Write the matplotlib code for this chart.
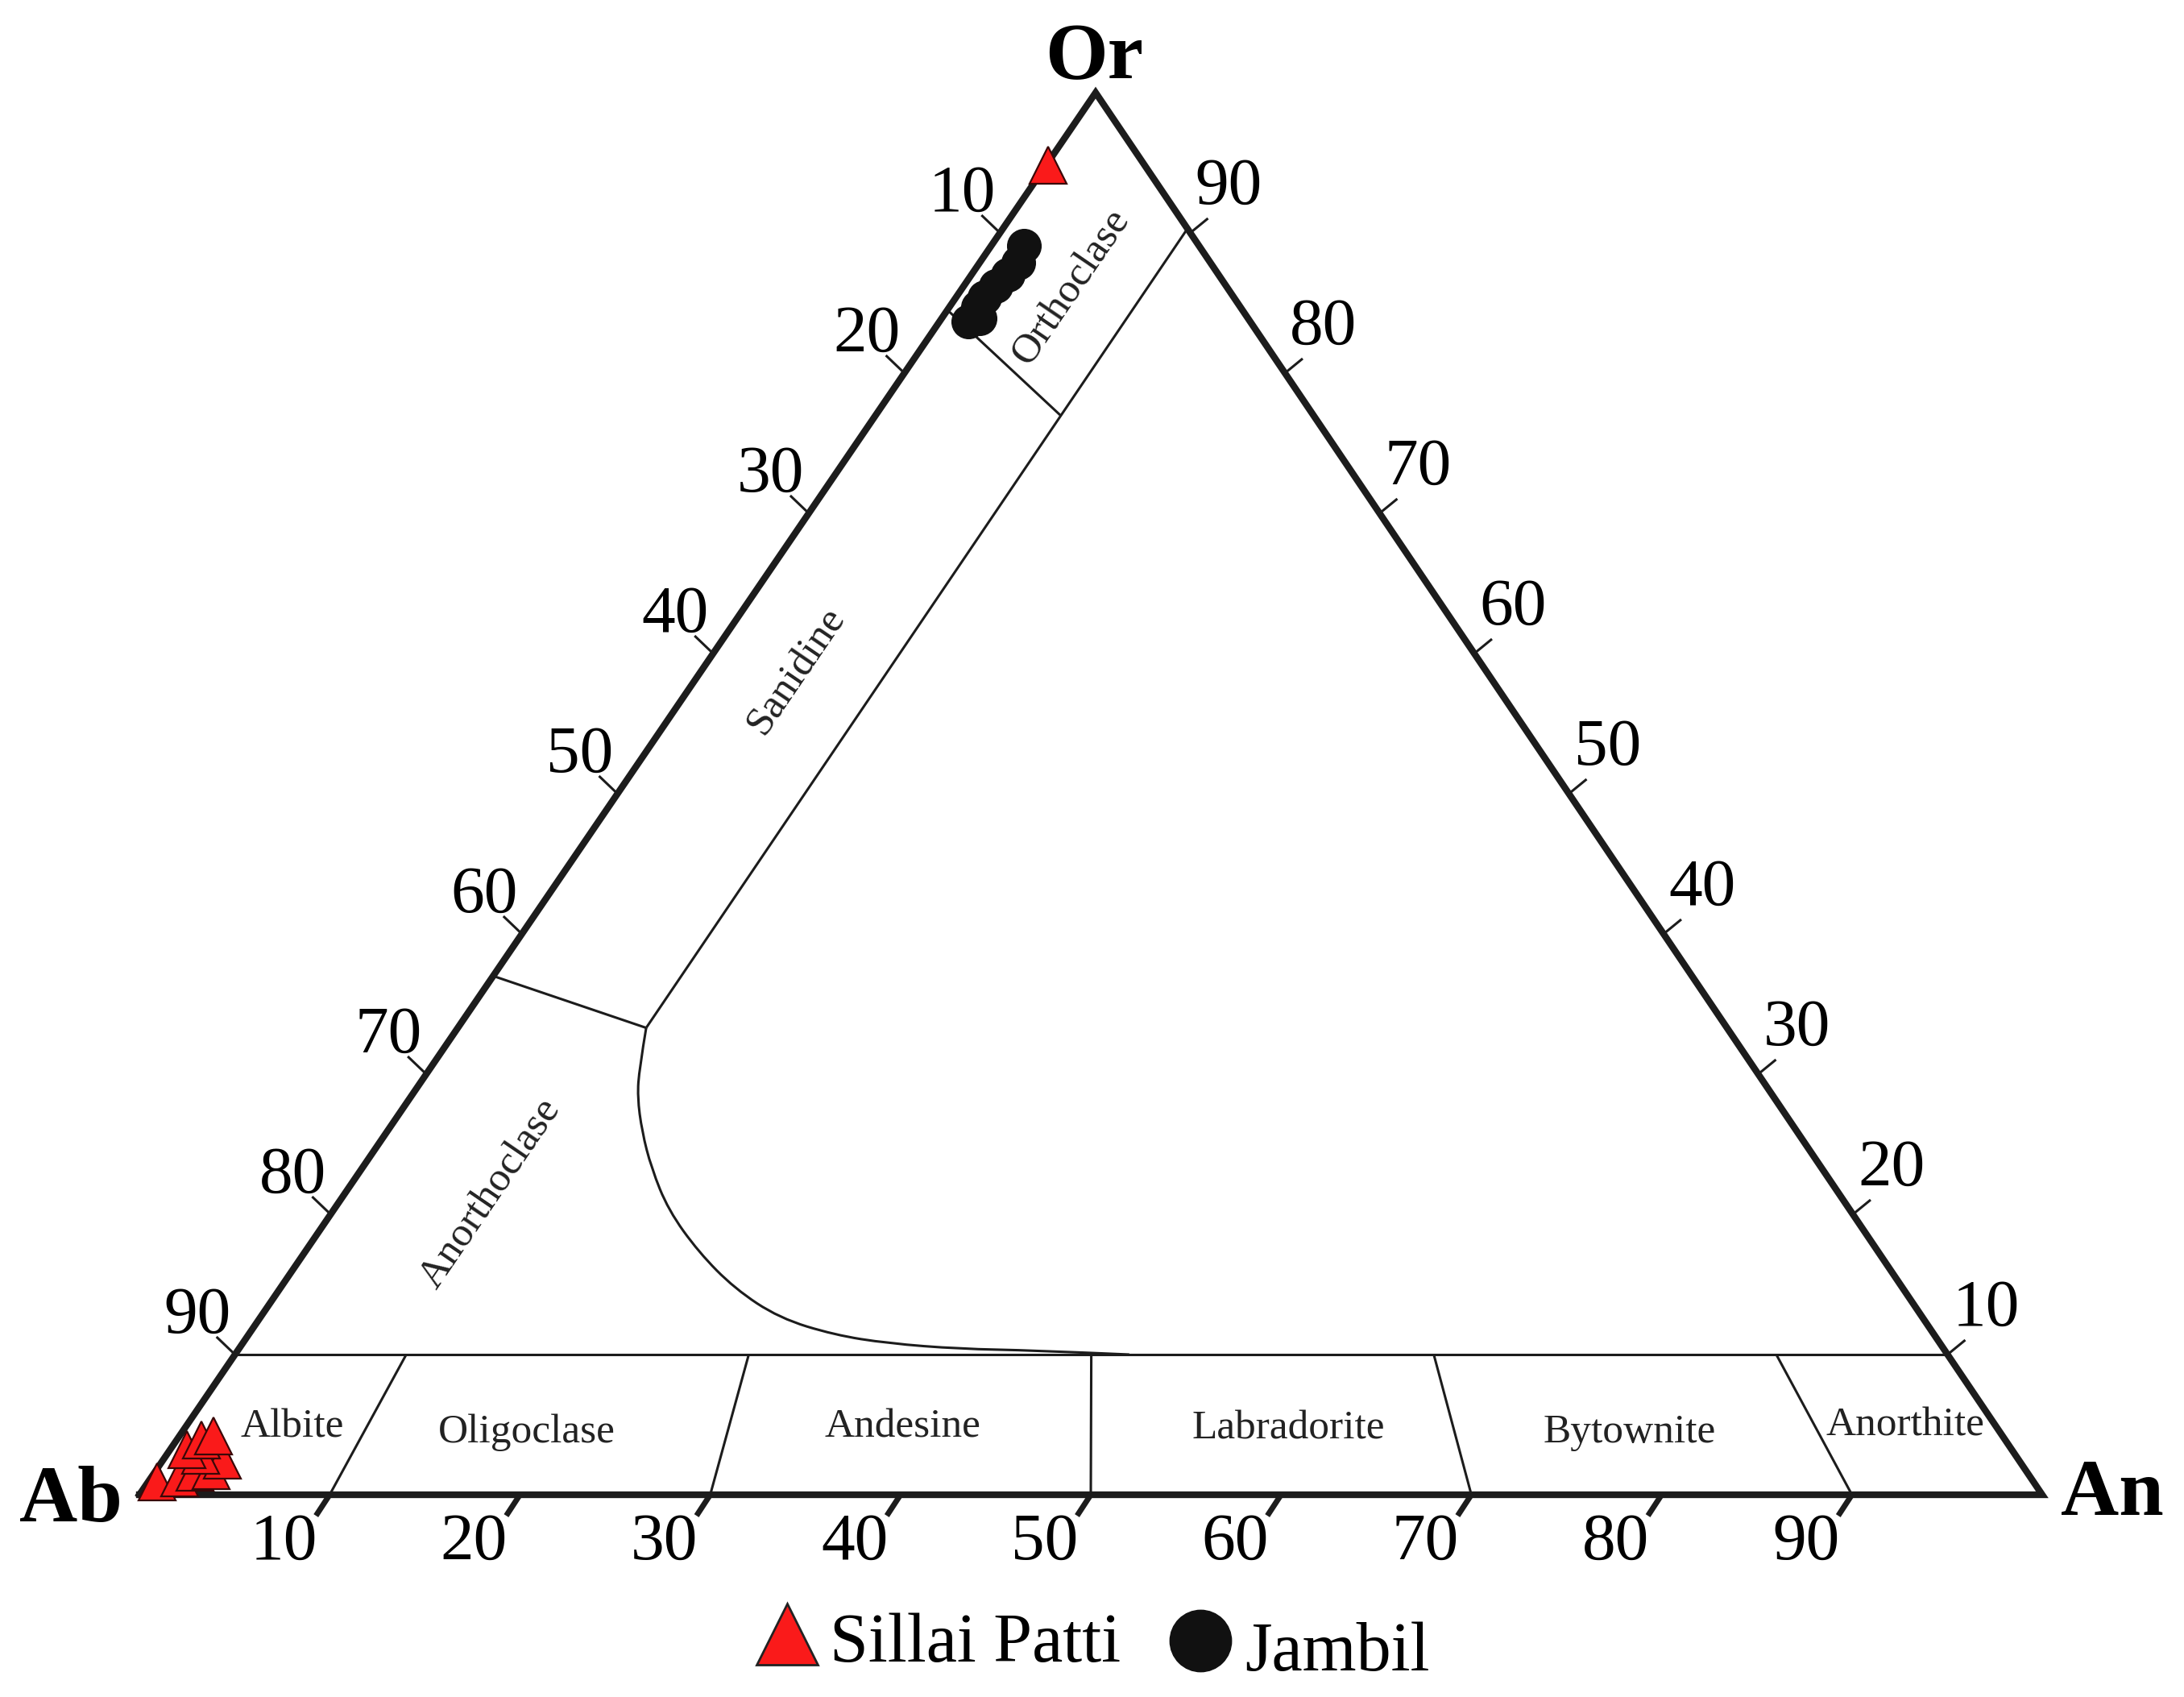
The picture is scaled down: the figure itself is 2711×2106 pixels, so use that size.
import numpy as np
import matplotlib.pyplot as plt
from matplotlib.path import Path
from matplotlib.patches import PathPatch

plt.rcParams['font.family'] = ['Liberation Serif', 'DejaVu Serif']

W, H = 2711, 2106
# triangle corners in figure pixels (Ab, Or, An)
AB_V = (173, 1855)
OR_V = (1360, 115)
AN_V = (2535, 1855)

# samples (percent)
sillai_or = [0.9, 1.2, 1.6, 1.7, 2.5, 2.8, 3.2, 3.9, 4.2, 94.8]
sillai_an = [0.5, 1.5, 2.1, 2.9, 3.1, 1.8, 0.9, 1.3, 1.8, 0.1]
jambil_or = [89.1, 87.9, 87.0, 86.2, 85.4, 84.7, 83.7, 83.9]
jambil_an = [1.7, 2.0, 1.9, 1.7, 1.5, 1.5, 1.5, 2.0]

# field boundaries
plag_ratio = [10, 30, 50, 70, 90]
plag_names = ['Albite', 'Oligoclase', 'Andesine', 'Labradorite', 'Bytownite', 'Anorthite']
curve_or = [33.3, 30.4, 28.4, 25.9, 23.3, 20.3, 17.3, 14.7, 12.6, 11.4, 10.8, 10.4, 10.3, 10.0]
curve_an = [9.9, 11.0, 11.9, 13.4, 15.2, 17.6, 20.7, 23.9, 27.3, 30.8, 33.9, 37.9, 41.8, 47.0]
ticks = [10, 20, 30, 40, 50, 60, 70, 80, 90]


def tern(ab, or_, an):
    ab = np.asarray(ab, float)
    or_ = np.asarray(or_, float)
    an = np.asarray(an, float)
    s = ab + or_ + an
    x = (ab * AB_V[0] + or_ * OR_V[0] + an * AN_V[0]) / s
    y = (ab * AB_V[1] + or_ * OR_V[1] + an * AN_V[1]) / s
    return x, y


def tline(p, q, **kw):
    x0, y0 = tern(*p)
    x1, y1 = tern(*q)
    ax.plot([x0, x1], [y0, y1], **kw)


fig = plt.figure(figsize=(W / 100, H / 100), dpi=100)
ax = fig.add_axes([0, 0, 1, 1])
ax.set_xlim(0, W)
ax.set_ylim(H, 0)
ax.axis('off')

thin = dict(color='#1c1c1c', lw=2.2, solid_capstyle='butt')

# outline
ox, oy = tern([100, 0, 0, 100], [0, 100, 0, 0], [0, 0, 100, 0])
ax.plot(ox, oy, color='#1c1c1c', lw=6, solid_joinstyle='miter', zorder=3)

# Or = 10 line
tline((90, 10, 0), (0, 10, 90), **thin)
# plagioclase dividers (towards Or apex)
for r in plag_ratio:
    tline((100 - r, 0, r), (90 - 0.9 * r, 10, 0.9 * r), **thin)
# anorthoclase / sanidine boundary
tline((63, 37, 0), (100 - 33.3 - 9.9, 33.3, 9.9), **thin)
# sanidine line (An ~ 10)
tline((100 - 33.3 - 9.9, 33.3, 9.9), (0, 90.3, 9.7), **thin)
# orthoclase lower boundary
tline((15.5, 84.5, 0), (100 - 77 - 9.7, 77, 9.7), **thin)

# curved boundary, smoothed with quadratic bezier segments
cor = np.array(curve_or)
can = np.array(curve_an)
cx, cy = tern(100 - cor - can, cor, can)
pts = np.column_stack([cx, cy])
verts = [pts[0]]
codes = [Path.MOVETO]
for i in range(1, len(pts) - 2):
    verts += [pts[i], (pts[i] + pts[i + 1]) / 2]
    codes += [Path.CURVE3, Path.CURVE3]
verts += [pts[-2], pts[-1]]
codes += [Path.CURVE3, Path.CURVE3]
ax.add_patch(PathPatch(Path(verts, codes), fill=False, ec='#1c1c1c', lw=2.2))

# ticks and tick labels
fs = 60
for v in ticks:
    # left edge: Ab
    x, y = tern(v, 100 - v, 0)
    ax.plot([x, x - 23], [y, y - 22], **thin)
    ax.text(x - 47, y - 27, str(v), fontsize=fs, ha='center', va='baseline')
    # right edge: Or
    x, y = tern(0, v, 100 - v)
    ax.plot([x, x + 22], [y, y - 18], **thin)
    ax.text(x + 48, y - 36, str(v), fontsize=fs, ha='center', va='baseline')
    # base: An
    x, y = tern(100 - v, 0, v)
    ax.plot([x, x - 17], [y, y + 26], color='#1c1c1c', lw=5, solid_capstyle='butt')
    ax.text(x - 57, y + 80, str(v), fontsize=fs, ha='center', va='baseline')

# corner labels
ax.text(1358, 97, 'Or', fontsize=72, fontweight='bold', ha='center', va='baseline')
ax.text(88, 1888, 'Ab', fontsize=72, fontweight='bold', ha='center', va='baseline')
ax.text(2622, 1880, 'An', fontsize=72, fontweight='bold', ha='center', va='baseline')

# field names
lab_x = [363, 654, 1120, 1599, 2023, 2365]
lab_y = [1784, 1790, 1784, 1786, 1790, 1781]
for name, x, y in zip(plag_names, lab_x, lab_y):
    ax.text(x, y, name, fontsize=37, ha='center', va='baseline', color='#222')
rot = 55.7
ax.text(1330, 356, 'Orthoclase', fontsize=37, rotation=rot, rotation_mode='anchor',
        ha='center', va='center', color='#222')
ax.text(989, 833, 'Sanidine', fontsize=37, rotation=rot, rotation_mode='anchor',
        ha='center', va='center', color='#222')
ax.text(609, 1482, 'Anorthoclase', fontsize=37, rotation=rot, rotation_mode='anchor',
        ha='center', va='center', color='#222')

# samples
sor = np.array(sillai_or)
san = np.array(sillai_an)
sx, sy = tern(100 - sor - san, sor, san)
ax.plot(sx, sy, '^', ms=33, mfc='#fa1a1a', mec='#3a0808', mew=1.6, ls='none', zorder=5)
jor = np.array(jambil_or)
jan = np.array(jambil_an)
jx, jy = tern(100 - jor - jan, jor, jan)
ax.plot(jx, jy, 'o', ms=30, mfc='#111111', mec='#111111', ls='none', zorder=5)

# legend
ax.plot([977], [2028], '^', ms=55, mfc='#fa1a1a', mec='#222222', mew=2, clip_on=False)
ax.text(1030, 2062, 'Sillai Patti', fontsize=62, ha='left', va='baseline')
ax.plot([1490], [2036], 'o', ms=55, mfc='#111111', mec='#111111', clip_on=False)
ax.text(1545, 2073, 'Jambil', fontsize=62, ha='left', va='baseline')

fig.savefig('out.png', dpi=100, facecolor='white')
